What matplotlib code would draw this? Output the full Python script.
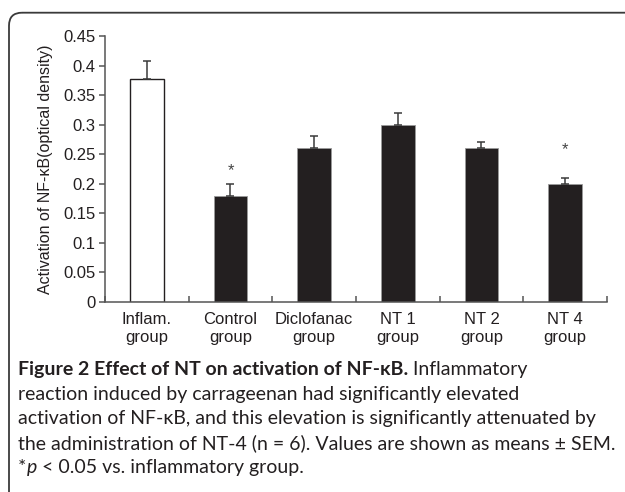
import matplotlib
matplotlib.use("Agg")
import matplotlib.pyplot as plt
from matplotlib.patches import FancyBboxPatch

categories = ["Inflam.\ngroup", "Control\ngroup", "Diclofanac\ngroup", "NT 1\ngroup", "NT 2\ngroup", "NT 4\ngroup"]
values = [0.378, 0.18, 0.26, 0.30, 0.26, 0.20]
errors = [0.03, 0.02, 0.02, 0.02, 0.01, 0.01]
bar_colors = ["white", "#231f20", "#231f20", "#231f20", "#231f20", "#231f20"]
star_groups = [1, 5]
star_heights = [0.222, 0.258]
yticks = [0, 0.05, 0.1, 0.15, 0.2, 0.25, 0.3, 0.35, 0.4, 0.45]
ytick_labels = ["0", "0.05", "0.1", "0.15", "0.2", "0.25", "0.3", "0.35", "0.4", "0.45"]
ylabel = "Activation of NF-κB(optical density)"

W, H = 625, 492
fig = plt.figure(figsize=(W / 100, H / 100), dpi=100)

# background overlay axes in pixel coordinates
bg = fig.add_axes([0, 0, 1, 1], zorder=0)
bg.set_xlim(0, W)
bg.set_ylim(H, 0)
bg.axis("off")
frame = FancyBboxPatch((9, 12.7), 800, 700, boxstyle="round,pad=0,rounding_size=13",
                       facecolor="none", edgecolor="#3a3a3a", linewidth=1.3)
bg.add_patch(frame)

ax = fig.add_axes([105 / W, 1 - 302 / H, (607 - 105) / W, (302 - 36) / H], zorder=2)
ax.patch.set_alpha(0)
x = list(range(len(categories)))
ax.bar(x, values, width=0.4, color=bar_colors, edgecolor=["#231f20"] + ["#9a9a9a"] * 5,
       linewidth=[1.0] + [0.6] * 5, zorder=2)
ax.errorbar(x, values, yerr=[[0] * len(errors), errors], fmt="none", ecolor="#3a3a3a",
            elinewidth=1.1, capsize=3.0, capthick=1.1, zorder=3)
for g, h in zip(star_groups, star_heights):
    ax.text(g, h, "*", ha="center", va="center", fontsize=12, color="#444444",
            family="Liberation Sans")

ax.set_xlim(-0.5, len(categories) - 0.5)
ax.set_ylim(0, 0.45)
ax.set_yticks(yticks)
ax.set_yticklabels(ytick_labels, family="Liberation Sans", fontsize=12, color="#231f20")
ax.set_xticks([i + 0.5 for i in range(-1, len(categories))])
ax.set_xticklabels([])
ax.set_xticks(x, minor=True)
ax.set_xticklabels(categories, minor=True, family="Liberation Sans", fontsize=12,
                   color="#231f20", linespacing=1.25)
ax.tick_params(axis="x", which="minor", length=0, pad=7)
ax.tick_params(axis="x", which="major", direction="in", length=4, color="#555555", width=1.1)
ax.tick_params(axis="y", direction="out", length=4, color="#555555", width=1.1, pad=3)
for s in ["top", "right"]:
    ax.spines[s].set_visible(False)
for s in ["left", "bottom"]:
    ax.spines[s].set_color("#555555")
    ax.spines[s].set_linewidth(1.1)
ax.set_ylabel(ylabel, family=["Liberation Sans", "DejaVu Sans"], fontsize=11.5, color="#231f20",
              labelpad=7)

# caption
fam = ["Lato", "DejaVu Sans"]
renderer = fig.canvas.get_renderer()
cap_color = "#231f20"
lines = [
    [("Figure 2 Effect of NT on activation of NF-κB.", "bold"), (" Inflammatory", "normal")],
    [("reaction induced by carrageenan had significantly elevated", "normal")],
    [("activation of NF-κB, and this elevation is significantly attenuated by", "normal")],
    [("the administration of NT-4 (n = 6). Values are shown as means ± SEM.", "normal")],
    [("*", "normal"), ("p", "italic"), (" < 0.05 vs. inflammatory group.", "normal")],
]
# fit font size so that line 4 spans the measured width
probe = bg.text(0, 0, lines[3][0][0], fontsize=10, family=fam)
wpx = probe.get_window_extent(renderer).width
probe.remove()
fs = 10 * 596 / wpx

y0 = 370
dy = 24.4
x0 = 18
for i, segs in enumerate(lines):
    xc = x0
    for txt, style in segs:
        kw = dict(fontsize=fs, family=fam, color=cap_color, va="center", ha="left")
        if style == "bold":
            kw["fontweight"] = "bold"
        if style == "italic":
            kw["fontstyle"] = "italic"
        t = bg.text(xc, y0 + i * dy, txt, **kw)
        ext = t.get_window_extent(renderer)
        xc += ext.width
fig.savefig("out.png", dpi=100)
